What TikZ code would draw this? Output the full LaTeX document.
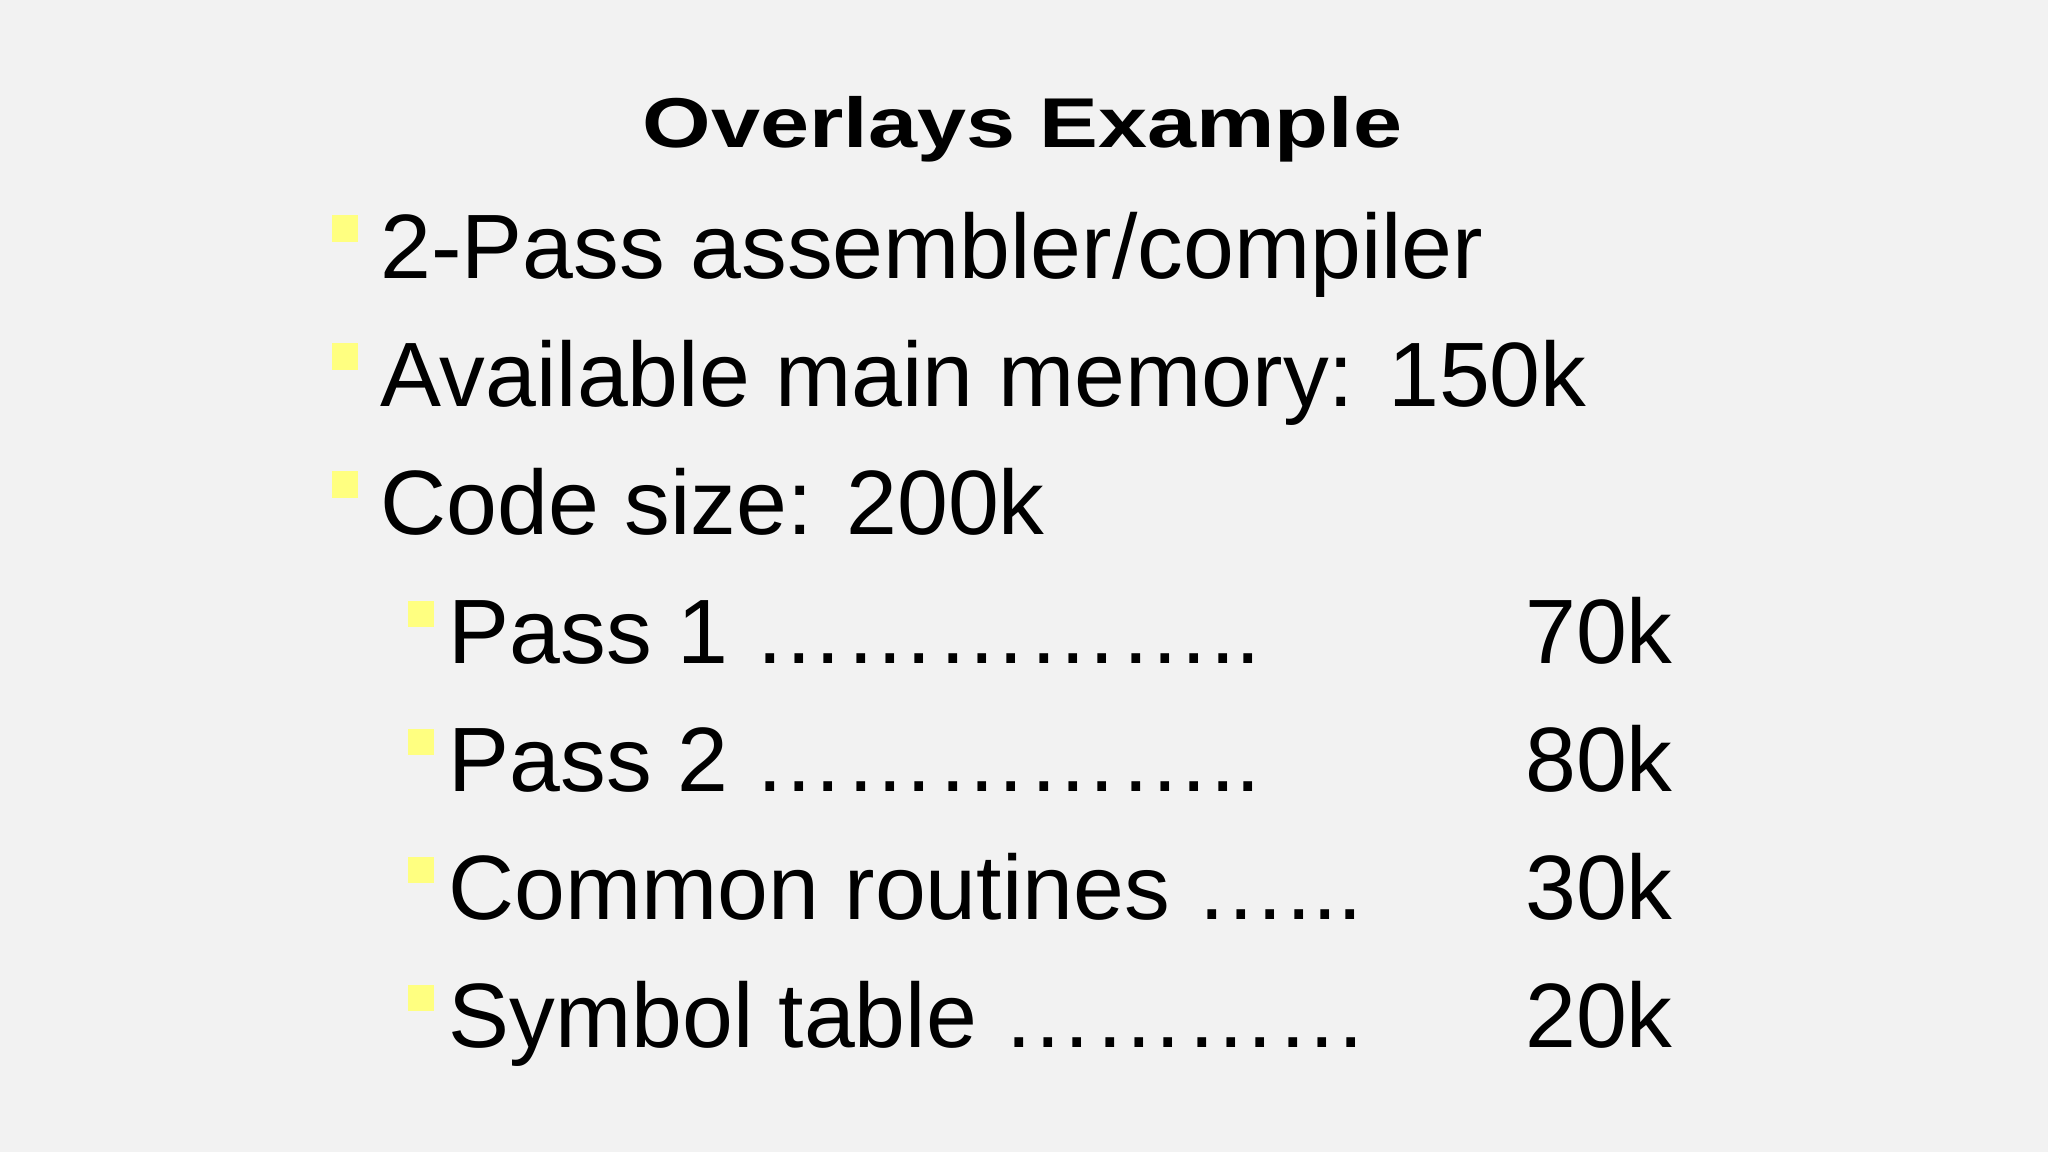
\documentclass[tikz,border=0pt]{standalone}
\usepackage{fontspec}
\setmainfont{Liberation Sans}
\begin{document}
\begin{tikzpicture}[x=0.5pt,y=0.5pt,
  txt/.style={anchor=base west,inner sep=0pt,font=\fontsize{35}{40}\selectfont},
  num/.style={anchor=base east,inner sep=0pt,font=\fontsize{35}{40}\selectfont},
  bul/.style={fill=bulletyellow,draw=none}]
\definecolor{bg}{HTML}{F2F2F2}
\definecolor{bulletyellow}{HTML}{FFFF80}
\fill[bg] (0,0) rectangle (1568,882);
\useasboundingbox (0,0) rectangle (1568,882);
\node[anchor=base,inner sep=0pt,font=\fontsize{27}{30}\selectfont\bfseries,xscale=1.25] (title) at (783,769) {Overlays Example};
\foreach \y/\t [count=\i] in {213/{2-Pass assembler/compiler},311/{Available main memory: 150k},409/{Code size: 200k}}{
  \fill[bul] (254,882-\y+28) rectangle (274,882-\y+48);
  \node[txt] (m\i) at (291,882-\y) {\t};
}
\foreach \y/\t/\n [count=\i] in {508/{Pass 1 \dots\dots\dots\dots\dots..}/70k,606/{Pass 2 \dots\dots\dots\dots\dots..}/80k,704/{Common routines \dots...}/30k,802/{Symbol table \dots\dots\dots\dots}/20k}{
  \fill[bul] (312,882-\y+28) rectangle (332,882-\y+48);
  \node[txt] (s\i) at (343,882-\y) {\t};
  \node[num] (n\i) at (1281,882-\y) {\n};
}
\end{tikzpicture}
\end{document}
